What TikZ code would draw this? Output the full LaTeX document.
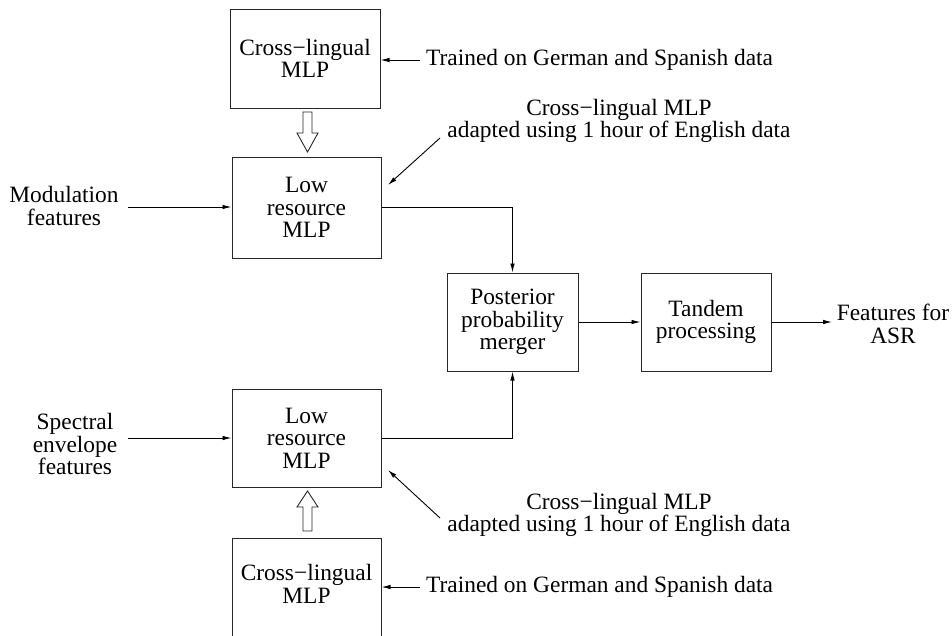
\documentclass[tikz,border=0pt]{standalone}
\usepackage{fontspec}
\setmainfont{Liberation Serif}
\usetikzlibrary{arrows.meta}
\tikzset{
  box/.style={draw=black!85, line width=1pt, minimum width=149pt, inner sep=0pt, align=center},
  lbl/.style={inner sep=0pt, align=center},
  arr/.style={line width=0.9pt, -{Latex[length=9pt,width=4.5pt]}},
  hollow/.style={draw=black!85, line width=0.9pt, fill=white},
}
\begin{document}
\begin{tikzpicture}[x=1pt,y=-1pt,font=\fontsize{23.4}{22.5}\selectfont]
\useasboundingbox (0,0) rectangle (952,635);
\clip (0,0) rectangle (952,635);
% boxes
\node[box, minimum width=150pt, minimum height=99pt] (cl1) at (305,58.5) {Cross−lingual\\MLP};
\node[box, minimum height=101pt] (lr1) at (306.5,207.5) {Low\\resource\\MLP};
\node[box, minimum width=131pt, minimum height=98pt] (mrg) at (512.5,322) {Posterior\\probability\\merger};
\node[box, minimum width=130pt, minimum height=98pt] (tdm) at (706,322) {Tandem\\processing};
\node[box, minimum height=98pt] (lr2) at (306.5,438) {Low\\resource\\MLP};
\node[box, minimum height=120pt, anchor=north] (cl2) at (306.5,538) {};
\node[lbl] (cl2t) at (306.5,584) {Cross−lingual\\MLP};
% labels
\node[lbl, anchor=west] (tr1) at (426,60) {Trained on German and Spanish data};
\node[lbl] (ad1) at (619,121) {Cross−lingual MLP\\adapted using 1 hour of English data};
\node[lbl] (mod) at (64,206) {Modulation\\features};
\node[lbl] (spe) at (75,444) {Spectral\\envelope\\features};
\node[lbl] (ad2) at (619,515) {Cross−lingual MLP\\adapted using 1 hour of English data};
\node[lbl, anchor=west] (tr2) at (426,587) {Trained on German and Spanish data};
\node[lbl] (asr) at (893,324) {Features for\\ASR};
% free ends
\coordinate (a1s) at (440,138);
\coordinate (a1e) at (388,185);
\coordinate (a2s) at (440,518);
\coordinate (a2e) at (388,470);
% connectors
\draw[arr] ([xshift=-6pt]tr1.west) -- (cl1.east |- tr1.west);
\draw[arr] ([xshift=-6pt]tr2.west) -- (cl2.east |- tr2.west);
\draw[arr] (a1s) -- (a1e);
\draw[arr] (a2s) -- (a2e);
\draw[arr] (128,207) -- (lr1.west |- 0,207);
\draw[arr] (128,438) -- (lr2.west |- 0,438);
\draw[arr] (lr1.east) -| (mrg.north);
\draw[arr] (lr2.east) -| (mrg.south);
\draw[arr] (mrg.east) -- (tdm.west);
\draw[arr] (tdm.east) -- (832,322);
% hollow arrows
\draw[hollow] (303,112) -- (312,112) -- (312,133) -- (318,133) -- (307.5,152) -- (297,133) -- (303,133) -- cycle;
\draw[hollow] (303,531) -- (312,531) -- (312,507) -- (318,507) -- (307.5,491) -- (297,507) -- (303,507) -- cycle;
\end{tikzpicture}
\end{document}
